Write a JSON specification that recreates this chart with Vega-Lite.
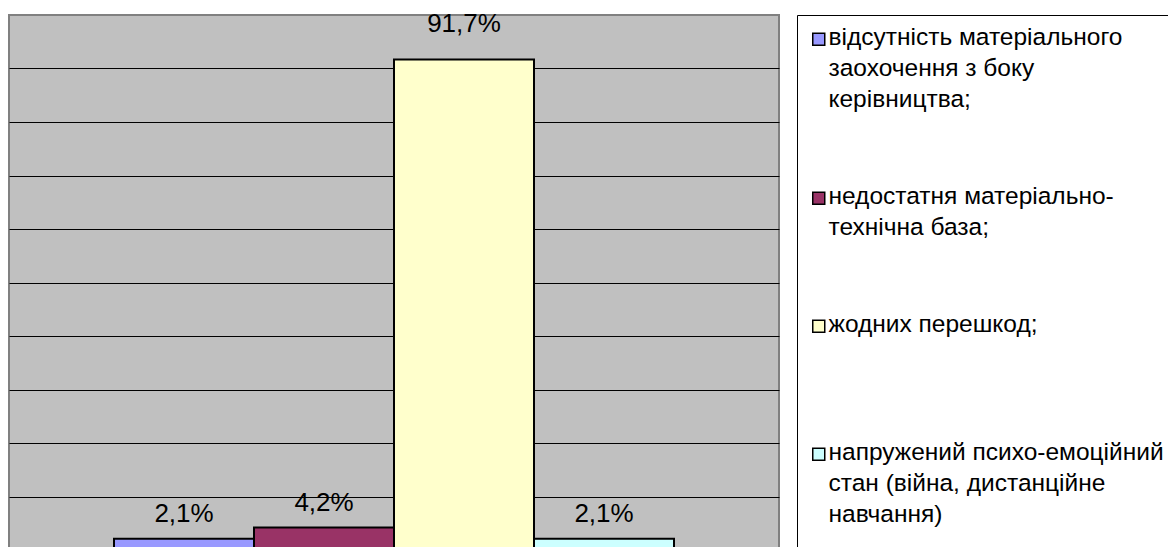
{
  "$schema": "https://vega.github.io/schema/vega-lite/v6.json",
  "width": 770,
  "height": 535,
  "autosize": {"type": "none"},
  "padding": {"left": 9, "top": 15, "right": 389, "bottom": 0},
  "background": "white",
  "config": {
    "view": {"fill": "#C0C0C0", "stroke": "#808080", "strokeWidth": 2},
    "font": "Liberation Sans",
    "locale": {"number": {"decimal": ",", "thousands": "\u00a0", "grouping": [3], "currency": ["", " ₴"]}}
  },
  "data": {
    "values": [
      {"category": "відсутність матеріального заохочення з боку керівництва;", "share": 0.021},
      {"category": "недостатня матеріально-технічна база;", "share": 0.042},
      {"category": "жодних перешкод;", "share": 0.917},
      {"category": "напружений психо-емоційний стан (війна, дистанційне навчання)", "share": 0.021}
    ]
  },
  "encoding": {
    "x": {
      "field": "category",
      "type": "nominal",
      "sort": null,
      "axis": null,
      "scale": {"paddingInner": 0, "paddingOuter": 0.75}
    },
    "y": {
      "field": "share",
      "type": "quantitative",
      "scale": {"domain": [0, 1], "nice": false, "zero": true},
      "axis": {
        "values": [0.1, 0.2, 0.3, 0.4, 0.5, 0.6, 0.7, 0.8, 0.9],
        "grid": true,
        "gridColor": "#000000",
        "gridWidth": 1,
        "gridOpacity": 1,
        "domain": false,
        "ticks": false,
        "labels": false,
        "title": null
      }
    }
  },
  "layer": [
    {
      "mark": {"type": "bar", "stroke": "#000000", "strokeWidth": 2},
      "encoding": {
        "color": {
          "field": "category",
          "type": "nominal",
          "sort": null,
          "scale": {
            "domain": [
              "відсутність матеріального заохочення з боку керівництва;",
              "недостатня матеріально-технічна база;",
              "жодних перешкод;",
              "напружений психо-емоційний стан (війна, дистанційне навчання)"
            ],
            "range": ["#9999FF", "#993366", "#FFFFCC", "#CCFFFF"]
          },
          "legend": {
            "orient": "right",
            "offset": 18,
            "title": null,
            "strokeColor": "#000000",
            "fillColor": "#FFFFFF",
            "padding": 12,
            "symbolType": "square",
            "symbolSize": 144,
            "symbolFillOpacity": 1,
            "symbolStrokeColor": "#000000",
            "symbolStrokeWidth": 1.5,
            "symbolOffset": -2.5,
            "labelFont": "Liberation Sans",
            "labelFontSize": 24.5,
            "labelColor": "#000000",
            "labelLimit": 0,
            "labelOffset": -2.5,
            "labelBaseline": "top",
            "rowPadding": 72,
            "labelExpr": "datum.label == 'відсутність матеріального заохочення з боку керівництва;' ? ['відсутність матеріального', 'заохочення з боку', 'керівництва;'] : datum.label == 'недостатня матеріально-технічна база;' ? ['недостатня матеріально-', 'технічна база;'] : datum.label == 'жодних перешкод;' ? ['жодних перешкод;', ' '] : datum.label == 'напружений психо-емоційний стан (війна, дистанційне навчання)' ? ['напружений психо-емоційний', 'стан (війна, дистанційне', 'навчання)', ' '] : datum.label",
            "encode": {
              "labels": {"update": {"lineHeight": {"value": 31}, "dy": {"value": -13}}}
            }
          }
        }
      }
    },
    {
      "transform": [{"filter": "datum.share < 0.5"}],
      "mark": {"type": "text", "baseline": "alphabetic", "dy": -17, "fontSize": 26, "font": "Liberation Sans", "color": "#000000"},
      "encoding": {"text": {"field": "share", "type": "quantitative", "format": ".1%"}}
    },
    {
      "transform": [{"filter": "datum.share >= 0.5"}],
      "mark": {"type": "text", "baseline": "alphabetic", "dy": -27, "fontSize": 26, "font": "Liberation Sans", "color": "#000000"},
      "encoding": {"text": {"field": "share", "type": "quantitative", "format": ".1%"}}
    }
  ]
}
